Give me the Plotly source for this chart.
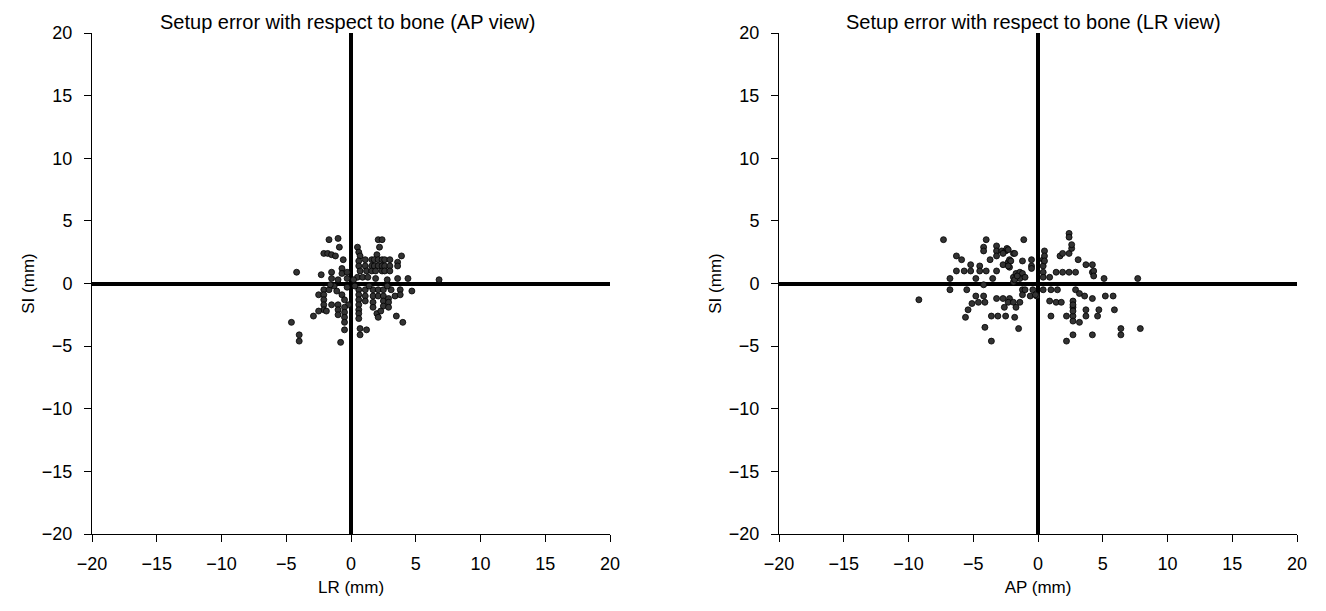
import plotly.graph_objects as go
from plotly.subplots import make_subplots

# Left panel: AP view (LR vs SI), mm
lr_x = [-1.7, -1.0, -0.9, -2.1, -1.8, -1.5, -1.2, -0.6, -4.2, -2.3, -1.5, -1.5, -0.7, -0.7, -0.3,
        0.5, 0.6, 0.7, 0.6, 0.6, 0.7, 1.1, 1.1, 1.2, 1.6, 1.6, 1.6,
        2.1, 2.4, 2.2, 2.0, 1.8, 2.1, 2.4, 1.8, 2.1, 2.4, 1.9, 2.4,
        2.6, 2.6, 2.6, 3.0, 3.0, 3.0, 3.6, 3.6, 3.9, 3.6, 4.4,
        0.5, 0.9, 1.3, 6.8, -0.3, 0.2, -1.0, 1.9, 2.8,
        -2.5, -2.1, -2.1, -2.1, -2.1, -2.1, -2.5, -1.9, -1.5, -1.7, -1.1, -0.7, -0.5, -0.2,
        -1.0, -1.0, -1.0, -0.5, -0.5, -0.5, -0.5, -0.5, -2.9, -4.6, -4.0, -4.0, -0.8,
        0.6, 0.6, 0.6, 0.6, 0.6, 0.6, 0.6, 0.7, 1.2, 0.7,
        1.1, 1.1, 1.1, 1.7, 1.7, 1.7, 1.7, 2.0, 2.1, 2.1, 2.1,
        2.5, 2.5, 2.5, 2.5, 2.3, 2.9, 2.9, 2.9, 3.1, 3.4, 3.5, 3.8, 3.8, 4.0, 4.7,
        -1.3, -0.3, 0.3, 1.4, 2.8, -1.6]
lr_y = [3.5, 3.6, 2.9, 2.4, 2.4, 2.3, 2.2, 1.9, 0.9, 0.7, 0.9, 0.4, 1.2, 0.8, 0.4,
        2.9, 2.5, 2.2, 1.8, 1.4, 1.0, 1.9, 1.4, 1.0, 1.9, 1.4, 1.0,
        3.5, 3.5, 2.9, 2.3, 1.9, 1.9, 1.9, 1.4, 1.4, 1.4, 1.0, 1.0,
        1.9, 1.4, 1.0, 1.9, 1.4, 1.0, 1.7, 1.4, 2.2, 0.4, 0.4,
        0.5, 0.5, 0.5, 0.3, 0.9, 0.3, 0.3, 0.4, 0.3,
        -0.9, -0.5, -0.9, -1.3, -1.7, -2.1, -2.2, -2.2, -1.7, -0.5, -0.6, -0.9, -1.3, -1.7,
        -1.7, -2.1, -2.5, -1.9, -2.3, -2.7, -3.1, -3.7, -2.6, -3.1, -4.1, -4.6, -4.7,
        -0.5, -0.9, -1.3, -1.7, -2.1, -2.4, -2.8, -3.6, -3.7, -4.1,
        -0.5, -1.0, -1.4, -0.5, -1.0, -1.5, -1.9, -2.4, -2.7, -0.5, -1.0,
        -0.5, -1.0, -1.4, -1.8, -2.2, -1.2, -1.5, -1.9, -0.5, -1.0, -2.6, -0.5, -0.9, -3.1, -0.6,
        -0.2, -0.3, -0.2, -0.2, -0.2, -0.1]

# Right panel: LR view (AP vs SI), mm
ap_x = [-7.3, -4.0, -1.1, -4.2, -4.2, -3.2, -3.2, -3.2, -2.8, -2.5, -1.9, -2.4, -2.7,
        -6.3, -5.9, -5.2, -4.5, -4.5, -3.7, -2.7, -2.3, -2.2, -2.2,
        -6.3, -5.7, -5.2, -4.0, -3.2,
        -6.8, -6.8, -5.5, -4.8, -4.2, -3.5, -9.2,
        -1.9, -1.7, -1.4, -1.2, -1.4, -1.9, -1.8, -1.0, -1.6,
        -1.2, -0.5, -0.5, -0.5,
        -1.2, -1.2, -0.6, -0.4,
        0.4, 0.4, 0.4, 0.4, 0.9, 1.4, 1.9, 2.4, 2.9,
        1.7, 1.9, 2.4, 2.6, 2.4, 2.4, 2.6, 3.1, 3.7, 4.2, 4.2, 5.1, 7.7,
        2.9, 3.2, 3.6, 4.2, 5.2, 5.8,
        2.7, 2.7, 2.7, 3.2, 2.2, 3.7, 3.7, 4.7, 4.6, 5.9, 1.0,
        0.9, 1.4, 1.8, 0.4, 1.0, 1.5, -0.1, -0.2,
        6.4, 6.4, 7.9, 4.2, 2.7, 2.2, -3.6, -4.1, -5.6, -5.4, -5.1,
        -4.8, -4.2, -4.1, -4.6, -3.6, -3.1, -2.5, -1.8,
        -3.2, -2.7, -2.2, -2.3, -1.9, -1.4, -2.6, -1.7, -1.5,
        -1.0,
        0.5, 0.5, 0.5, -2.3, -1.8, -2.1, -2.3, 4.3, 4.3,
        2.7, 2.7, 2.7]
ap_y = [3.5, 3.5, 3.5, 2.9, 2.6, 3.0, 2.6, 2.2, 2.6, 2.6, 2.4, 2.8, 2.4,
        2.2, 1.9, 1.5, 1.4, 1.0, 1.9, 1.5, 1.7, 1.9, 1.3,
        1.0, 1.0, 1.0, 1.0, 1.0,
        0.4, -0.5, -0.5, 0.4, -0.1, 0.4, -1.3,
        0.5, 0.8, 0.9, 0.8, 0.4, 0.1, 0.3, 0.5, 0.6,
        1.8, 1.9, 1.4, 1.2,
        -0.5, -0.9, -1.0, -0.5,
        1.9, 1.4, 0.9, 0.5, 0.5, 0.9, 0.9, 0.9, 0.9,
        2.2, 2.4, 2.4, 2.8, 4.0, 3.7, 3.1, 1.9, 1.5, 1.5, 0.9, 0.4, 0.4,
        -0.5, -0.8, -1.0, -1.2, -1.0, -1.0,
        -1.4, -1.9, -2.6, -3.1, -2.6, -2.1, -2.6, -2.1, -2.6, -2.1, -2.6,
        -1.4, -1.5, -1.5, -0.5, -0.5, -0.5, -1.0, -0.9,
        -3.6, -4.1, -3.6, -4.1, -4.1, -4.6, -4.6, -3.5, -2.7, -2.1, -1.6,
        -1.0, -1.0, -1.5, -1.5, -2.6, -2.6, -2.6, -2.7,
        -1.2, -1.2, -1.2, -1.5, -1.5, -1.5, -1.9, -1.9, -3.6,
        -0.5,
        2.6, 2.2, 1.8, 2.7, 2.4, 1.8, 1.4, 1.0, 0.6,
        -1.7, -2.2, -3.0]

ticks = [-20, -15, -10, -5, 0, 5, 10, 15, 20]
titles = ["Setup error with respect to bone (AP view)",
          "Setup error with respect to bone (LR view)"]
x_titles = ["LR (mm)", "AP (mm)"]
y_title = "SI (mm)"

# page body adds an 8px offset; figure sized to fit the window after it
OFF = 8
W, H = 1326 - OFF, 611 - OFF
ML, MT = 92 - OFF, 33 - OFF
MR = W - (1297 - OFF)
MB = H - (534 - OFF)
PW = W - ML - MR
PH = H - MT - MB

fig = make_subplots(rows=1, cols=2)

marker = dict(symbol="circle", size=6, color="#333333",
              line=dict(width=0.8, color="#000000"))
fig.add_trace(go.Scatter(x=lr_x, y=lr_y, mode="markers", marker=marker,
                         showlegend=False), row=1, col=1)
fig.add_trace(go.Scatter(x=ap_x, y=ap_y, mode="markers", marker=marker,
                         showlegend=False), row=1, col=2)

font = dict(family="Liberation Sans, Arial, sans-serif", color="#000000")
x_doms = [[0, (610 - 92) / PW], [(779 - 92) / PW, 1]]
title_x = [(347 - 92) / PW, (1033 - 92) / PW]

axis_common = dict(
    range=[-20, 20], tickvals=ticks, showgrid=False,
    showline=True, linecolor="#000000", linewidth=1,
    ticks="outside", ticklen=7, tickwidth=1, tickcolor="#000000",
    zeroline=True, zerolinecolor="#000000", zerolinewidth=4,
    tickfont=dict(size=18, **font), mirror=False, automargin=False,
)

for i in range(2):
    xa = "xaxis" if i == 0 else "xaxis2"
    ya = "yaxis" if i == 0 else "yaxis2"
    fig.layout[xa].update(domain=x_doms[i], **axis_common, ticklabelstandoff=6,
                          title=dict(text=x_titles[i], font=dict(size=17, **font), standoff=8))
    fig.layout[ya].update(domain=[0, 1], **axis_common, ticklabelstandoff=8,
                          title=dict(text=y_title, font=dict(size=17, **font), standoff=2))
    fig.add_annotation(text=titles[i], xref="paper", yref="paper",
                       x=title_x[i], y=1 + (MT - 1) / PH,
                       xanchor="center", yanchor="top", showarrow=False,
                       font=dict(size=20, **font))

fig.update_layout(width=W, height=H, margin=dict(l=ML, r=MR, t=MT, b=MB),
                  plot_bgcolor="#ffffff", paper_bgcolor="#ffffff", font=font)

fig.write_html("out.html")
